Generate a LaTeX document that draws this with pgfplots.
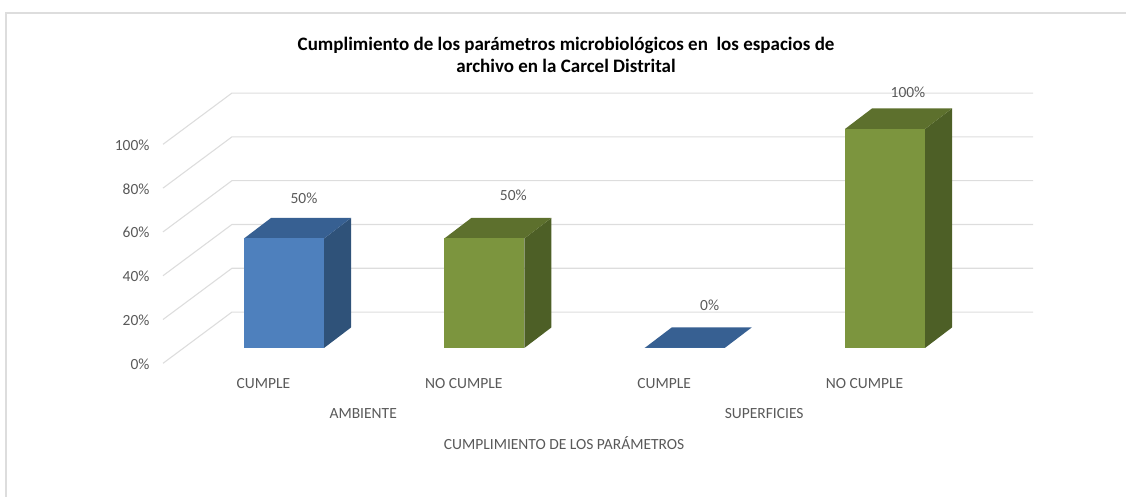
\documentclass[border=0pt]{standalone}
\usepackage{pgfplots}
\pgfplotsset{compat=1.18}
\usepackage{fontspec}
\setmainfont{Carlito}
\definecolor{txt}{HTML}{595959}
\definecolor{gridc}{HTML}{DDDDDD}
\definecolor{frontB}{HTML}{4E80BD}
\definecolor{topB}{HTML}{376092}
\definecolor{sideB}{HTML}{2F5279}
\definecolor{frontG}{HTML}{7C953E}
\definecolor{topG}{HTML}{5D702D}
\definecolor{sideG}{HTML}{4D5F26}
\begin{document}
\begin{tikzpicture}
\begin{axis}[
  x=200.33pt, y=2.19pt,
  xmin=-0.604, xmax=3.739, ymin=0, ymax=116.4,
  clip=false,
  axis line style={draw=none},
  major tick length=0pt,
  tick style={draw=none},
  xtick={0,1,2,3},
  xticklabels={CUMPLE,NO CUMPLE,CUMPLE,NO CUMPLE},
  ytick={0,20,40,60,80,100},
  yticklabel={\pgfmathprintnumber{\tick}\%},
  /pgf/number format/assume math mode=true,
  x tick label style={font=\fontsize{15.5}{17}\selectfont, text=txt, anchor=center, xshift=-20.5pt, yshift=-36pt},
  y tick label style={font=\fontsize{15.5}{17}\selectfont, text=txt, anchor=east, xshift=-10pt, yshift=-16pt},
  bar width=80pt,
  nodes near coords={\pgfmathprintnumber{\pgfplotspointmeta}\%},
  nodes near coords style={font=\fontsize{15.5}{17}\selectfont, text=txt, anchor=center},
]
% page corners and chart frame
\coordinate (ll) at (axis cs:-1.4177,-68.04);
\coordinate (ur) at (axis cs:4.2031,158.9);
\addplot[draw=gridc, line width=1.2pt, nodes near coords={}] coordinates {(-1.388,-68.04)(-1.388,153)(4.2031,153)};
% gridlines
\addplot[draw=gridc, line width=1.1pt, nodes near coords={}] coordinates {(-0.604,-7)(-0.26,16.4)(3.739,16.4)};
\addplot[draw=gridc, line width=1.1pt, nodes near coords={}] coordinates {(-0.604,13)(-0.26,36.4)(3.739,36.4)};
\addplot[draw=gridc, line width=1.1pt, nodes near coords={}] coordinates {(-0.604,33)(-0.26,56.4)(3.739,56.4)};
\addplot[draw=gridc, line width=1.1pt, nodes near coords={}] coordinates {(-0.604,53)(-0.26,76.4)(3.739,76.4)};
\addplot[draw=gridc, line width=1.1pt, nodes near coords={}] coordinates {(-0.604,73)(-0.26,96.4)(3.739,96.4)};
\addplot[draw=gridc, line width=1.1pt, nodes near coords={}] coordinates {(-0.604,93)(-0.26,116.4)(3.739,116.4)};
% bar 1
\addplot[draw=none, fill=sideB, nodes near coords={}] coordinates {(0.1997,0)(0.3345,9.36)(0.3345,59.36)(0.1997,50)} --cycle;
\addplot[draw=none, fill=topB, nodes near coords={}] coordinates {(-0.1997,50)(0.1997,50)(0.3345,59.36)(-0.0649,59.36)} --cycle;
\addplot[ybar, bar shift=0pt, draw=none, fill=frontB,
  every node near coord/.append style={xshift=20pt, yshift=40pt}] coordinates {(0,50)};
% bar 2
\addplot[draw=none, fill=sideG, nodes near coords={}] coordinates {(1.1997,0)(1.3345,9.36)(1.3345,59.36)(1.1997,50)} --cycle;
\addplot[draw=none, fill=topG, nodes near coords={}] coordinates {(0.8003,50)(1.1997,50)(1.3345,59.36)(0.9351,59.36)} --cycle;
\addplot[ybar, bar shift=0pt, draw=none, fill=frontG,
  every node near coord/.append style={xshift=29pt, yshift=43pt}] coordinates {(1,50)};
% bar 3 (value 0: only the top face shows)
\addplot[draw=none, fill=topB, nodes near coords={}] coordinates {(1.8003,0)(2.1997,0)(2.3345,9.36)(1.9351,9.36)} --cycle;
\addplot[ybar, bar shift=0pt, draw=none, fill=frontB,
  every node near coord/.append style={xshift=25pt, yshift=43pt}] coordinates {(2,0)};
% bar 4
\addplot[draw=none, fill=sideG, nodes near coords={}] coordinates {(3.1997,0)(3.3345,9.36)(3.3345,109.36)(3.1997,100)} --cycle;
\addplot[draw=none, fill=topG, nodes near coords={}] coordinates {(2.8003,100)(3.1997,100)(3.3345,109.36)(2.9351,109.36)} --cycle;
\addplot[ybar, bar shift=0pt, draw=none, fill=frontG,
  every node near coord/.append style={xshift=23pt, yshift=37pt}] coordinates {(3,100)};
% texts
\node[font=\fontsize{15.5}{17}\selectfont, text=txt] at (axis cs:0.3954,-29.7) {AMBIENTE};
\node[font=\fontsize{15.5}{17}\selectfont, text=txt] at (axis cs:2.397,-29.7) {SUPERFICIES};
\node[font=\fontsize{15.5}{17}\selectfont, text=txt] at (axis cs:1.398,-43.5) {CUMPLIMIENTO DE LOS PARÁMETROS};
\node[font=\bfseries\fontsize{19}{22}\selectfont, text=black, align=center] at (axis cs:1.408,134) {Cumplimiento de los parámetros microbiológicos en\ \ los espacios de\\archivo en la Carcel Distrital};
\end{axis}
\pgfresetboundingbox
\useasboundingbox (ll) rectangle (ur);
\end{tikzpicture}
\end{document}
